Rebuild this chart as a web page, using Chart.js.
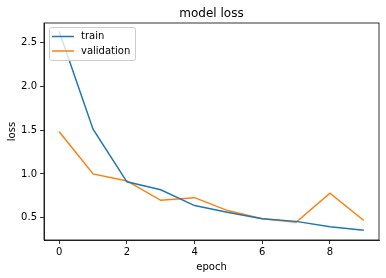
<!DOCTYPE html>
<html>
<head>
<meta charset="utf-8">
<script src="https://cdn.jsdelivr.net/npm/chart.js@4"></script>
<style>
  html, body { margin: 0; padding: 0; background: #fff; }
  #wrap { width: 386px; height: 278px; }
</style>
</head>
<body>
<div id="wrap"><canvas id="chart"></canvas></div>
<script>
var epochs = [0, 1, 2, 3, 4, 5, 6, 7, 8, 9];
var trainLoss = [2.62, 1.51, 0.91, 0.82, 0.64, 0.56, 0.49, 0.46, 0.40, 0.36];
var valLoss = [1.48, 1.00, 0.92, 0.70, 0.73, 0.58, 0.49, 0.45, 0.78, 0.47];
var xTicks = [0, 2, 4, 6, 8];
var yTicks = [0.5, 1.0, 1.5, 2.0, 2.5];

var font = "DejaVu Sans";

function points(values) {
  return epochs.map(function (e, i) { return { x: e, y: values[i] }; });
}

// frame, title, axis labels and legend drawn like matplotlib
var decor = {
  id: "decor",
  afterDraw: function (chart) {
    var ctx = chart.ctx, a = chart.chartArea;
    ctx.save();
    ctx.strokeStyle = "#000";
    ctx.lineWidth = 0.8;
    ctx.strokeRect(a.left, a.top, a.right - a.left, a.bottom - a.top);

    ctx.fillStyle = "#000";
    ctx.textAlign = "center";
    ctx.textBaseline = "alphabetic";
    ctx.font = "12px " + font;
    ctx.fillText("model loss", (a.left + a.right) / 2, 17);
    ctx.font = "10px " + font;
    ctx.fillText("epoch", (a.left + a.right) / 2, 270);
    ctx.save();
    ctx.translate(15, (a.top + a.bottom) / 2);
    ctx.rotate(-Math.PI / 2);
    ctx.fillText("loss", 0, 0);
    ctx.restore();

    // legend
    var lx = a.left + 5, ly = a.top + 4, lw = 86, lh = 33;
    ctx.beginPath();
    ctx.roundRect(lx + 0.5, ly + 0.5, lw, lh, 2);
    ctx.fillStyle = "rgba(255,255,255,0.8)";
    ctx.fill();
    ctx.strokeStyle = "#cccccc";
    ctx.lineWidth = 1;
    ctx.stroke();
    ctx.textAlign = "left";
    ctx.textBaseline = "middle";
    chart.data.datasets.forEach(function (ds, i) {
      var y = ly + 9.5 + i * 14.5;
      ctx.beginPath();
      ctx.moveTo(lx + 3, y);
      ctx.lineTo(lx + 25, y);
      ctx.strokeStyle = ds.borderColor;
      ctx.lineWidth = 1.5;
      ctx.stroke();
      ctx.fillStyle = "#000";
      ctx.fillText(ds.label, lx + 32, y);
    });
    ctx.restore();
  },
};

new Chart(document.getElementById("chart"), {
  type: "line",
  data: {
    datasets: [{
      label: "train",
      data: points(trainLoss),
      borderColor: "#1f77b4",
      borderWidth: 1.5,
      pointRadius: 0,
      tension: 0,
    }, {
      label: "validation",
      data: points(valLoss),
      borderColor: "#ff7f0e",
      borderWidth: 1.5,
      pointRadius: 0,
      tension: 0,
    }],
  },
  options: {
    responsive: true,
    maintainAspectRatio: false,
    animation: false,
    layout: { padding: { top: 23, right: 7, left: 0, bottom: 0 } },
    plugins: {
      legend: { display: false },
      title: { display: false },
      tooltip: { enabled: false },
    },
    scales: {
      x: {
        type: "linear",
        min: -0.45,
        max: 9.45,
        afterBuildTicks: function (s) { s.ticks = xTicks.map(function (v) { return { value: v }; }); },
        afterFit: function (s) { s.height = 38; },
        ticks: { color: "#000", font: { family: font, size: 10 }, padding: 2, maxRotation: 0 },
        grid: { drawOnChartArea: false, drawTicks: true, tickLength: 4, color: "#000", lineWidth: 0.8 },
        border: { display: true, color: "#000", width: 0.8 },
      },
      y: {
        min: 0.248,
        max: 2.718,
        afterBuildTicks: function (s) { s.ticks = yTicks.map(function (v) { return { value: v }; }); },
        afterFit: function (s) { s.width = 44; },
        ticks: {
          color: "#000",
          font: { family: font, size: 10 },
          padding: 3,
          callback: function (v) { return v.toFixed(1); },
        },
        grid: { drawOnChartArea: false, drawTicks: true, tickLength: 4, color: "#000", lineWidth: 0.8 },
        border: { display: true, color: "#000", width: 0.8 },
      },
    },
  },
  plugins: [decor],
});
</script>
</body>
</html>
